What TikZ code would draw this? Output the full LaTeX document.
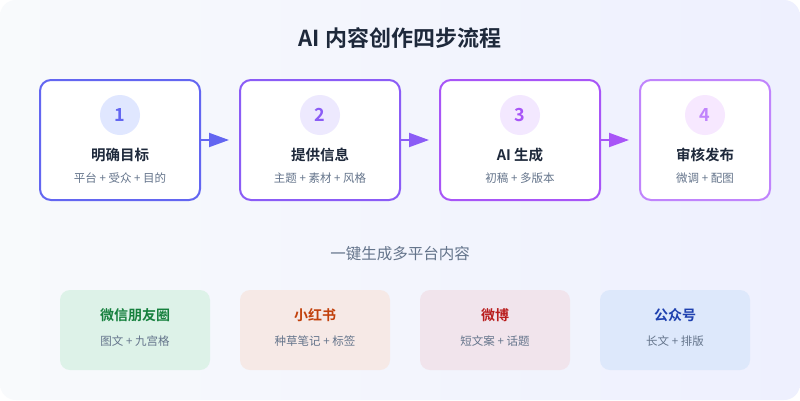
\documentclass[tikz,border=0pt]{standalone}
\usepackage{fontspec}
\setmainfont{Noto Sans CJK SC}[BoldFont={Noto Sans CJK SC Bold}]
\usetikzlibrary{arrows.meta}
\definecolor{bgA}{HTML}{F8FAFC}
\definecolor{bgB}{HTML}{EEF0FE}
\definecolor{ink}{HTML}{1E293B}
\definecolor{sub}{HTML}{64748B}
\definecolor{cA}{HTML}{6366F1}
\definecolor{cB}{HTML}{8B5CF6}
\definecolor{cC}{HTML}{A855F7}
\definecolor{cD}{HTML}{C084FC}
\definecolor{fA}{HTML}{E0E7FF}
\definecolor{fB}{HTML}{EDE9FE}
\definecolor{fC}{HTML}{F3E8FF}
\definecolor{fD}{HTML}{F7E8FF}
\definecolor{gF}{HTML}{DDF2E8}
\definecolor{gT}{HTML}{15803D}
\definecolor{oF}{HTML}{F6E9E6}
\definecolor{oT}{HTML}{C2410C}
\definecolor{rF}{HTML}{F1E4EC}
\definecolor{rT}{HTML}{B91C1C}
\definecolor{bF}{HTML}{DDE8FB}
\definecolor{bT}{HTML}{1E40AF}
\tikzset{
  stepbox/.style={draw=#1, line width=2pt, fill=white, rounded corners=11pt, minimum height=120pt, inner sep=0pt},
  numcirc/.style={circle, fill=#1, minimum size=40pt, inner sep=0pt, font=\fontsize{18}{20}\selectfont\bfseries},
  steptitle/.style={font=\fontsize{14.5}{16}\selectfont\bfseries, text=ink, inner sep=0pt},
  stepsub/.style={font=\fontsize{11.5}{13}\selectfont, text=sub, inner sep=0pt},
  platbox/.style={fill=#1, rounded corners=10pt, minimum width=150pt, minimum height=80pt, inner sep=0pt},
  plattitle/.style={font=\fontsize{14}{16}\selectfont\bfseries, text=#1, inner sep=0pt},
  flow/.style={draw=#1, line width=2pt, -{Triangle[length=20pt,width=14pt,fill=#1]}, shorten >=10pt}
}
\begin{document}
\begin{tikzpicture}[x=1pt,y=-1pt]
\useasboundingbox (0,0) rectangle (800,400);
\fill[white] (0,0) rectangle (800,400);
\shade[rounded corners=16pt, left color=bgA, right color=bgB] (0,0) rectangle (800,400);
\node[font=\fontsize{22}{26}\selectfont\bfseries, text=ink] (title) at (400,38) {AI 内容创作四步流程};
% step boxes
\node[stepbox=cA, minimum width=160pt] (b1) at (120,140) {};
\node[stepbox=cB, minimum width=160pt] (b2) at (320,140) {};
\node[stepbox=cC, minimum width=160pt] (b3) at (520,140) {};
\node[stepbox=cD, minimum width=130pt] (b4) at (705,140) {};
\node[numcirc=fA, text=cA] (n1) at (120,115) {1};
\node[numcirc=fB, text=cB] (n2) at (320,115) {2};
\node[numcirc=fC, text=cC] (n3) at (520,115) {3};
\node[numcirc=fD, text=cD] (n4) at (705,115) {4};
\node[steptitle] (t1) at (120,155) {明确目标};
\node[steptitle] (t2) at (320,155) {提供信息};
\node[steptitle] (t3) at (520,155) {AI 生成};
\node[steptitle] (t4) at (705,155) {审核发布};
\node[stepsub] (s1) at (120,178) {平台 + 受众 + 目的};
\node[stepsub] (s2) at (320,178) {主题 + 素材 + 风格};
\node[stepsub] (s3) at (520,178) {初稿 + 多版本};
\node[stepsub] (s4) at (705,178) {微调 + 配图};
\draw[flow=cA] (b1.east) -- (b2.west);
\draw[flow=cB] (b2.east) -- (b3.west);
\draw[flow=cC] (b3.east) -- (b4.west);
% subtitle
\node[font=\fontsize{15.5}{18}\selectfont, text=sub] (mid) at (400,254) {一键生成多平台内容};
% platform boxes
\node[platbox=gF] (p1) at (135,330) {};
\node[platbox=oF] (p2) at (315,330) {};
\node[platbox=rF] (p3) at (495,330) {};
\node[platbox=bF] (p4) at (675,330) {};
\node[plattitle=gT] (q1) at (135,315) {微信朋友圈};
\node[plattitle=oT] (q2) at (315,315) {小红书};
\node[plattitle=rT] (q3) at (495,315) {微博};
\node[plattitle=bT] (q4) at (675,315) {公众号};
\node[stepsub] (r1) at (135,341) {图文 + 九宫格};
\node[stepsub] (r2) at (315,341) {种草笔记 + 标签};
\node[stepsub] (r3) at (495,341) {短文案 + 话题};
\node[stepsub] (r4) at (675,341) {长文 + 排版};
\end{tikzpicture}
\end{document}
